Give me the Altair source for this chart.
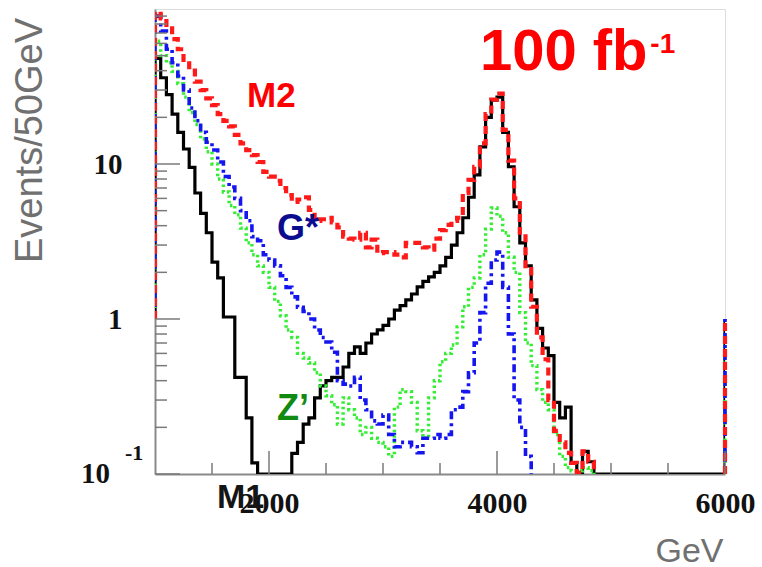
import altair as alt
import pandas as pd

# ---------------- data ----------------
BIN_LO = list(range(1000, 6000, 50))      # 100 bins of 50 GeV
X_MIN, X_MAX = 1000, 6000
Y_MIN, Y_MAX = 0.1, 100

M1_BLACK = [
    48, 36, 28, 21, 16, 12.5, 9.5, 6.5, 4.8, 3.6,
    2.33, 1.84, 1.03, 1.03, 0.42, 0.42, 0.23, 0.118, 0, 0,
    0, 0, 0, 0, 0.136, 0.16, 0.21, 0.23, 0.31, 0.37,
    0.40, 0.42, 0.42, 0.49, 0.6, 0.66, 0.6, 0.7, 0.8, 0.85,
    0.91, 1.0, 1.14, 1.22, 1.33, 1.45, 1.61, 1.75, 1.87, 2.0,
    2.2, 2.5, 3.0, 3.6, 4.5, 6.1, 8.5, 12.9, 20, 25.8,
    27, 16, 9.6, 5.3, 3.1, 2.2, 1.33, 0.87, 0.65, 0.58,
    0.29, 0.23, 0.27, 0.118, 0.102, 0.14, 0.12, 0, 0, 0,
    0, 0, 0, 0, 0, 0, 0, 0, 0, 0,
    0, 0, 0, 0, 0, 0, 0, 0, 0, 0,
]
M2_RED = [
    105, 87, 75, 64, 55, 47, 40, 34, 30, 26.5,
    24, 21, 19, 17.5, 15.4, 13.6, 12.3, 11.4, 10.3, 8.9,
    8.3, 7.8, 7.0, 6.3, 5.7, 5.9, 6.1, 5.05, 4.3, 4.4,
    4.5, 4.2, 3.9, 3.4, 3.3, 3.25, 3.6, 2.9, 3.25, 2.66,
    2.7, 2.7, 2.6, 2.5, 3.1, 3.1, 3.1, 2.9, 2.8, 3.3,
    3.75, 4.05, 4.3, 4.5, 6.5, 7.9, 9.6, 13.6, 21, 26,
    28.5, 16.6, 10.5, 6.0, 3.6, 2.1, 1.2, 0.76, 0.55, 0.3,
    0.19, 0.16, 0.137, 0.118, 0.102, 0.14, 0.12, 0, 0, 0,
    0, 0, 0, 0, 0, 0, 0, 0, 0, 0,
    0, 0, 0, 0, 0, 0, 0, 0, 0, 0,
]
GSTAR_BLUE = [
    90, 72, 55, 45, 37, 30, 23, 19, 16, 13.8,
    12.3, 10.3, 8.3, 7.1, 6.0, 5.0, 4.3, 3.4, 3.2, 2.6,
    2.4, 2.2, 1.9, 1.6, 1.39, 1.19, 1.12, 1.0, 0.85, 0.76,
    0.71, 0.61, 0.40, 0.38, 0.37, 0.42, 0.30, 0.26, 0.22, 0.21,
    0.24, 0.18, 0.15, 0.16, 0.16, 0.15, 0.137, 0.17, 0.17, 0.18,
    0.17, 0.18, 0.26, 0.27, 0.34, 0.45, 0.7, 1.1, 1.7, 2.4,
    2.7, 1.6, 0.8, 0.3, 0.2, 0.13, 0, 0, 0, 0,
    0, 0, 0, 0, 0, 0, 0, 0, 0, 0,
    0, 0, 0, 0, 0, 0, 0, 0, 0, 0,
    0, 0, 0, 0, 0, 0, 0, 0, 0, 0,
]
ZPRIME_GREEN = [
    62, 50, 45, 39.6, 33, 27, 21.5, 18, 14.5, 12,
    10, 8, 6.6, 5.4, 4.7, 3.86, 3.1, 2.6, 2.2, 2.0,
    1.6, 1.3, 1.05, 0.85, 0.76, 0.6, 0.56, 0.52, 0.45, 0.37,
    0.32, 0.28, 0.21, 0.31, 0.26, 0.23, 0.18, 0.2, 0.17, 0.16,
    0.15, 0.13, 0.27, 0.35, 0.34, 0.29, 0.19, 0.17, 0.31, 0.4,
    0.53, 0.6, 0.68, 0.89, 1.2, 1.6, 1.84, 2.6, 3.8, 5.2,
    4.6, 3.6, 2.5, 2.0, 1.1, 0.7, 0.5, 0.35, 0.29, 0.26,
    0.18, 0.13, 0.11, 0.105, 0.105, 0.11, 0.105, 0, 0, 0,
    0, 0, 0, 0, 0, 0, 0, 0, 0, 0,
    0, 0, 0, 0, 0, 0, 0, 0, 0, 0,
]

X_LABEL_TICKS = [2000, 4000, 6000]
X_MINOR_TICKS = [1500, 2500, 3000, 3500, 4500, 5000, 5500]
Y_MAJOR_TICKS = [0.1, 1, 10]
Y_LABEL_TICKS = [1, 10]
EDGE_LEVEL = 1.0   # level where the histogram edge lines start

W, H = 570, 465

# ---------------- helpers ----------------
xscale = alt.Scale(domain=[X_MIN, X_MAX], nice=False, zero=False)
yscale = alt.Scale(type="log", domain=[Y_MIN, Y_MAX], nice=False)

AX_X = alt.Axis(
    values=X_LABEL_TICKS, format="d", title="GeV", grid=False,
    ticks=False, tickSize=0, labelPadding=29, labelBaseline="middle",
    labelFont="Liberation Serif", labelFontWeight="bold", labelFontSize=30,
    labelColor="#111111", labelFlush=False, labelOverlap=False,
    domainColor="#8a8a8a", domainWidth=2,
    titleX=568, titleY=87, titleAlign="right", titleBaseline="alphabetic",
    titleFont="Liberation Sans", titleFontWeight="normal", titleFontSize=34,
    titleColor="#707070",
)
AX_Y = alt.Axis(
    values=Y_LABEL_TICKS, format="d", title="Events/50GeV", grid=False,
    ticks=False, tickSize=0, labelPadding=33, labelBaseline="middle",
    labelFont="Liberation Serif", labelFontWeight="bold", labelFontSize=29,
    labelColor="#111111", labelFlush=False, labelOverlap=False,
    domainColor="#8a8a8a", domainWidth=2,
    titleX=-125, titleY=131, titleAngle=270, titleAlign="center",
    titleBaseline="middle", titleFont="Liberation Sans",
    titleFontWeight="normal", titleFontSize=38, titleColor="#707070",
)


def X(field="E"):
    return alt.X(f"{field}:Q", scale=xscale, axis=AX_X, title="GeV")


def Y(field="v"):
    return alt.Y(f"{field}:Q", scale=yscale, axis=AX_Y, title="Events/50GeV")


def hist_frame(vals, keep_tail):
    vf = [max(v, Y_MIN) for v in vals]
    rows = [(X_MIN, EDGE_LEVEL)]
    if keep_tail:
        n = len(vals)
    else:
        last = max(i for i, v in enumerate(vals) if v > 0)
        n = min(last + 2, len(vals))
    for i in range(n):
        rows.append((BIN_LO[i], vf[i]))
    if keep_tail:
        rows.append((X_MAX, vf[-1]))
        rows.append((X_MAX, EDGE_LEVEL))
    return pd.DataFrame({"E": [r[0] for r in rows],
                         "v": [r[1] for r in rows],
                         "idx": list(range(len(rows)))})


def hist_layer(vals, color, width, dash, keep_tail=False):
    props = dict(interpolate="step-after", color=color, strokeWidth=width,
                 clip=True, strokeJoin="miter")
    if dash:
        props["strokeDash"] = dash
    return alt.Chart(hist_frame(vals, keep_tail)).mark_line(**props).encode(
        x=X(), y=Y(), order="idx:Q")


def edge_rule(color, width, dash):
    props = dict(color=color, strokeWidth=width)
    if dash:
        props["strokeDash"] = dash
    df = pd.DataFrame({"E": [X_MAX], "v": [Y_MIN], "v2": [EDGE_LEVEL]})
    return alt.Chart(df).mark_rule(**props).encode(x=X(), y=Y(), y2="v2:Q")


def text_layer(txt, E, v, color, size, font="Liberation Sans", align="left",
               baseline="alphabetic", dx=0, dy=0):
    return alt.Chart(pd.DataFrame({"t": [txt]})).mark_text(
        align=align, baseline=baseline, font=font, fontWeight="bold",
        fontSize=size, color=color, dx=dx, dy=dy,
    ).encode(x=alt.datum(E), y=alt.datum(v), text="t:N")


STY = {
    "black": ("#000000", 3.2, None),
    "green": ("#33ee33", 3.4, [2.5, 3]),
    "blue": ("#1515f0", 3.6, [8, 4, 3, 4]),
    "red": ("#ff1a1a", 4.2, [8, 5]),
}

layers = [
    hist_layer(M1_BLACK, *STY["black"], keep_tail=True),
    hist_layer(ZPRIME_GREEN, *STY["green"]),
    hist_layer(GSTAR_BLUE, *STY["blue"]),
    hist_layer(M2_RED, *STY["red"]),
    edge_rule(*STY["green"]),
    edge_rule(*STY["blue"]),
    edge_rule(*STY["red"]),
]

# inward ticks
tick_col = "#7a7a7a"
y_minor = [m * 10 ** k for k in (-1, 0, 1) for m in range(2, 10)]
layers += [
    alt.Chart(pd.DataFrame({"v": Y_MAJOR_TICKS})).mark_rule(
        color=tick_col, strokeWidth=1.5).encode(
        y=Y(), x=alt.value(0), x2=alt.value(25)),
    alt.Chart(pd.DataFrame({"v": y_minor})).mark_rule(
        color=tick_col, strokeWidth=1.5).encode(
        y=Y(), x=alt.value(0), x2=alt.value(12)),
    alt.Chart(pd.DataFrame({"E": X_LABEL_TICKS})).mark_rule(
        color=tick_col, strokeWidth=1.5).encode(
        x=X(), y=alt.value(H), y2=alt.value(H - 23)),
    alt.Chart(pd.DataFrame({"E": X_MINOR_TICKS})).mark_rule(
        color=tick_col, strokeWidth=1.5).encode(
        x=X(), y=alt.value(H), y2=alt.value(H - 11)),
]

# bottom y label "10^-1"
layers += [
    alt.Chart(pd.DataFrame({"t": ["10"], "v": [Y_MIN]})).mark_text(
        align="right", baseline="middle", font="Liberation Serif",
        fontWeight="bold", fontSize=29, color="#111111").encode(
        x=alt.value(-45), y=Y(), text="t:N"),
    alt.Chart(pd.DataFrame({"t": ["-1"], "v": [Y_MIN]})).mark_text(
        align="left", baseline="middle", font="Liberation Serif",
        fontWeight="bold", fontSize=22, color="#111111", dy=-21).encode(
        x=alt.value(-30), y=Y(), text="t:N"),
]

# annotations
layers += [
    text_layer("M2", 1807, 23.3, "#ff0000", 35),
    text_layer("G*", 2070, 3.23, "#0c0c8e", 36),
    text_layer("Z\u2019", 2070, 0.223, "#118a11", 36),
    text_layer("M1", 1544, 0.0604, "#151515", 34),
    text_layer("100 fb", 3850, 40.4, "#ff0000", 58),
    text_layer("-1", 5345, 52, "#ff0000", 28),
]

chart = alt.layer(*layers).properties(
    width=W, height=H,
    autosize=alt.AutoSizeParams(type="none"),
    padding={"left": 155, "top": 9, "right": 37, "bottom": 93},
).configure_view(stroke="#9a9a9a", strokeWidth=1.5).configure(
    background="white")

chart.save("out.html", embed_options={"renderer": "svg", "actions": False})
